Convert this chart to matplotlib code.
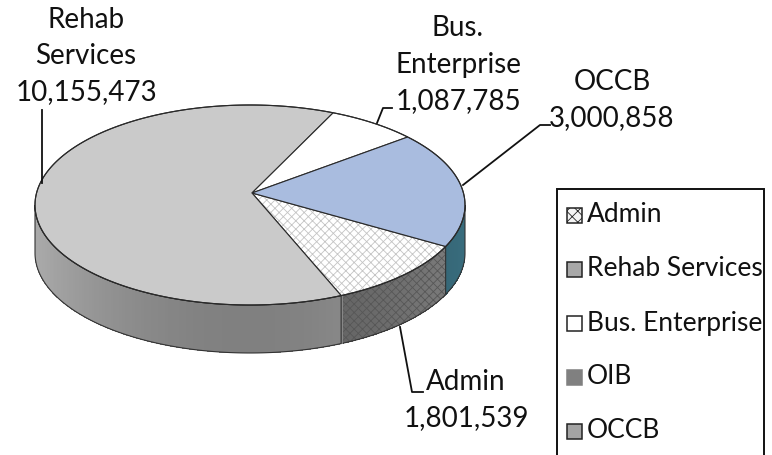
import numpy as np
import matplotlib.pyplot as plt
from matplotlib.colors import to_rgb
from matplotlib.patches import Polygon, Rectangle

categories = ['Admin', 'Rehab Services', 'Bus. Enterprise', 'OIB', 'OCCB']
values = [1801539, 10155473, 1087785, 0, 3000858]
value_labels = ['1,801,539', '10,155,473', '1,087,785', '', '3,000,858']
label_names = ['Admin', 'Rehab\nServices', 'Bus.\nEnterprise', '', 'OCCB']

top_colors = ['#ffffff', '#cacaca', '#ffffff', '#7f7f7f', '#a9bcdf']
side_colors = ['#6a6a6a', '#8e8e8e', '#d0d0d0', '#5a5a5a', '#2f5a68']
legend_colors = ['#f4f4f4', '#a8a8a8', '#ffffff', '#808080', '#a4a4a4']
hatches = ['xxxx', None, None, None, None]

plt.rcParams['font.family'] = ['Lato', 'DejaVu Sans']
plt.rcParams['hatch.linewidth'] = 0.6

fig = plt.figure(figsize=(7.72, 4.55), dpi=100)
ax = fig.add_axes([0, 0, 1, 1])
ax.set_xlim(0, 772)
ax.set_ylim(455, 0)
ax.axis('off')

# ellipse of the top face, in pixel units
cx, cy, rx, ry, depth = 250, 205, 215, 100, 48
apex = (252, 193)
start = -24.5  # first slice starts here and slices run clockwise


def rim(a, b, dy=0, n=None):
    n = n or max(2, int(abs(b - a)) * 2)
    t = np.radians(np.linspace(a, b, n))
    return np.column_stack([cx + rx * np.cos(t), cy - ry * np.sin(t) + dy])


total = sum(values)
spans = [v / total * 360 for v in values]
edges = start - np.concatenate([[0], np.cumsum(spans)])

# side walls (only the front half is visible)
for i in range(len(values)):
    hi, lo = edges[i], edges[i + 1]
    if hi - lo <= 0:
        continue
    for vis_lo, vis_hi in [(-180, 0), (-540, -360)]:
        a, b = max(lo, vis_lo), min(hi, vis_hi)
        if b <= a:
            continue
        # shade the wall in thin strips, lighter toward the sides
        steps = np.linspace(a, b, max(2, int(b - a)) + 1)
        base = np.array(to_rgb(side_colors[i]))
        for s0, s1 in zip(steps[:-1], steps[1:]):
            mid = np.radians((s0 + s1) / 2)
            shade = 0.9 + 0.3 * np.cos(mid) ** 2
            col = np.clip(base * shade, 0, 1)
            strip = np.vstack([rim(s0 - 0.3, s1 + 0.3, n=3),
                               rim(s1 + 0.3, s0 - 0.3, dy=depth, n=3)])
            ax.add_patch(Polygon(strip, closed=True, facecolor=col,
                                 lw=0, antialiased=False))
        wall = np.vstack([rim(a, b), rim(b, a, dy=depth)])
        if hatches[i]:
            ax.add_patch(Polygon(wall, closed=True, facecolor='none',
                                 edgecolor='#575757', hatch=hatches[i], lw=0))
        ax.add_patch(Polygon(wall, closed=True, facecolor='none',
                             edgecolor='#333333', lw=0.8))

# top faces
for i in range(len(values)):
    hi, lo = edges[i], edges[i + 1]
    if hi - lo <= 0:
        continue
    pts = np.vstack([[apex], rim(hi, lo)])
    ax.add_patch(Polygon(pts, closed=True, facecolor=top_colors[i],
                         edgecolor='none'))
    if hatches[i]:
        ax.add_patch(Polygon(pts, closed=True, facecolor='none',
                             edgecolor='#c4c4c4', hatch=hatches[i], lw=0))
    ax.add_patch(Polygon(pts, closed=True, facecolor='none',
                         edgecolor='#2a2a2a', lw=0.8))

ax.add_patch(Polygon(rim(0, 360), closed=True, facecolor='none',
                     edgecolor='#2a2a2a', lw=0.8))

# data labels with leader lines
label_pos = {0: (466, 400), 1: (86, 56), 2: (458, 65), 4: (612, 100)}
leaders = {
    0: [(400, 327), (412, 392), (423, 392)],
    1: [(42, 183), (42, 110)],
    2: [(377, 123), (383, 108), (392, 108)],
    4: [(463, 185), (540, 125), (550, 125)],
}
for i, (x, y) in label_pos.items():
    ax.text(x, y, label_names[i] + '\n' + value_labels[i], ha='center',
            va='center', fontsize=20, linespacing=1.5, color='#111111')
    lx, ly = zip(*leaders[i])
    ax.plot(lx, ly, color='#111111', lw=1.3)

# legend box
ax.add_patch(Rectangle((557, 189), 207, 300, facecolor='white',
                       edgecolor='#111111', lw=1.4))
for i, name in enumerate(categories):
    y = 215 + i * 54
    edge = legend_colors[i] if name == 'OIB' else '#222222'
    ax.add_patch(Rectangle((567, y - 7), 15, 15, facecolor=legend_colors[i],
                           edgecolor=edge, lw=1.1,
                           hatch='xxx' if hatches[i] else None))
    ax.text(587, y, name, ha='left', va='center', fontsize=19,
            color='#111111')

fig.savefig('out.png', dpi=100)
